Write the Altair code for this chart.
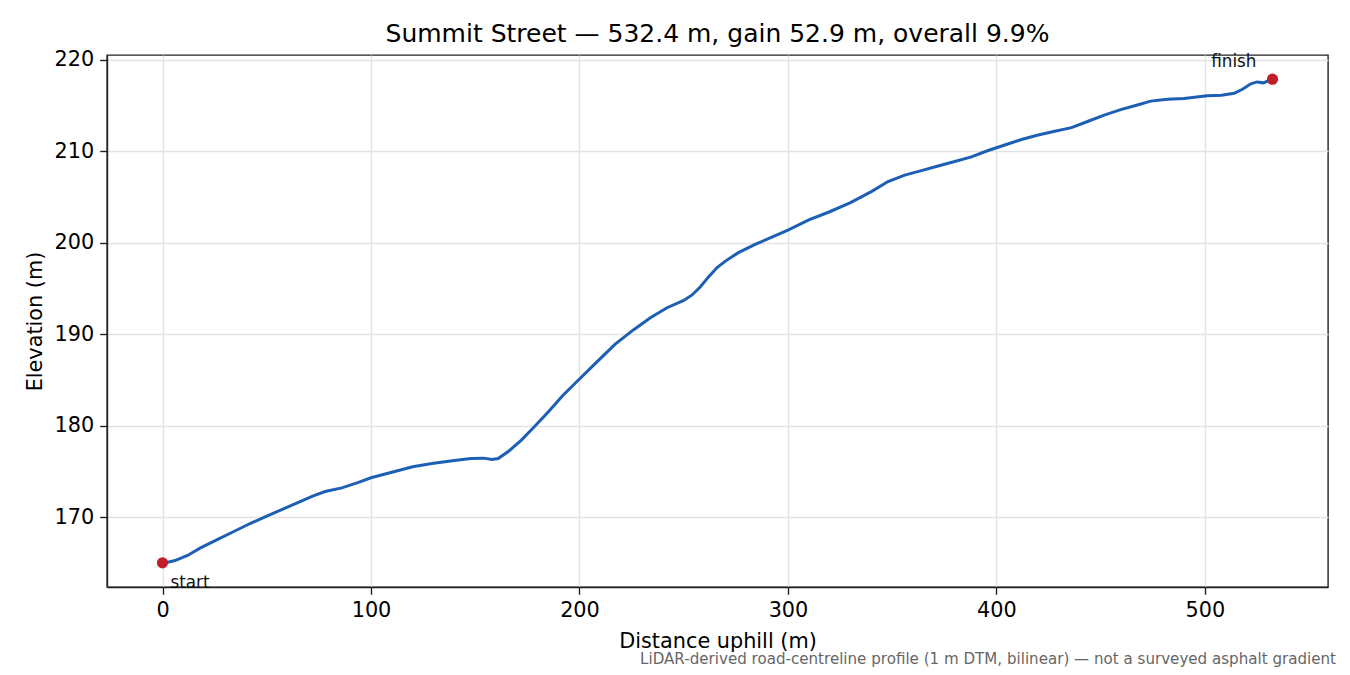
import pandas as pd
import altair as alt

# road profile
distance = [0, 3, 6, 12, 18, 26, 34, 42, 50, 58, 66, 72, 78, 86, 94, 100,
            110, 120, 130, 140, 148, 154, 158, 161, 166, 172, 178, 185, 192, 200,
            208, 217, 226, 234, 242, 250, 254, 258, 262, 266, 270, 276, 284, 292,
            300, 310, 320, 330, 340, 348, 356, 364, 372, 380, 388, 396, 404, 412,
            420, 428, 436, 444, 452, 460, 468, 474, 482, 490, 496, 501, 508, 514,
            518, 522, 525, 528, 532.4]
elevation = [165.0, 165.1, 165.25, 165.8, 166.6, 167.5, 168.4, 169.3, 170.1, 170.9,
             171.7, 172.3, 172.8, 173.2, 173.8, 174.3, 174.9, 175.5, 175.9, 176.2,
             176.4, 176.45, 176.3, 176.4, 177.2, 178.4, 179.8, 181.5, 183.3, 185.1,
             186.9, 188.9, 190.5, 191.8, 192.9, 193.7, 194.3, 195.2, 196.3, 197.3,
             198.0, 198.9, 199.8, 200.6, 201.4, 202.5, 203.4, 204.4, 205.6, 206.7,
             207.4, 207.9, 208.4, 208.9, 209.4, 210.1, 210.7, 211.3, 211.8, 212.2,
             212.6, 213.3, 214.0, 214.6, 215.1, 215.5, 215.7, 215.8, 215.95, 216.1,
             216.15, 216.35, 216.8, 217.4, 217.6, 217.5, 217.9]

end_labels = ['start', 'finish']
end_distance = [0, 532.4]
end_elevation = [165.0, 217.9]

x_ticks = [0, 100, 200, 300, 400, 500]
y_ticks = [170, 180, 190, 200, 210, 220]

footnote = 'LiDAR-derived road-centreline profile (1 m DTM, bilinear) \u2014 not a surveyed asphalt gradient'

df = pd.DataFrame({'distance': distance, 'elevation': elevation})
ends = pd.DataFrame({'label': end_labels, 'distance': end_distance, 'elevation': end_elevation})

FONT = 'DejaVu Sans'

x_enc = alt.X('distance:Q', title='Distance uphill (m)',
              scale=alt.Scale(domain=[-26.62, 559.02], nice=False, zero=False),
              axis=alt.Axis(values=x_ticks, format='d', labelFlush=False))
y_enc = alt.Y('elevation:Q', title='Elevation (m)',
              scale=alt.Scale(domain=[162.355, 220.545], nice=False, zero=False),
              axis=alt.Axis(values=y_ticks, format='d'))

line = alt.Chart(df).mark_line(color='#1c5fb4', strokeWidth=3).encode(
    x=x_enc, y=y_enc, order='distance:Q')

points = alt.Chart(ends).mark_circle(color='#c01f2a', size=125, opacity=1).encode(
    x='distance:Q', y='elevation:Q')

start_text = alt.Chart(ends[ends['label'] == 'start']).mark_text(
    align='left', baseline='alphabetic', dx=8, dy=25, fontSize=16.8, font=FONT, color='#111'
).encode(x='distance:Q', y='elevation:Q', text='label:N')

finish_text = alt.Chart(ends[ends['label'] == 'finish']).mark_text(
    align='right', baseline='alphabetic', dx=-16, dy=-12, fontSize=16.8, font=FONT, color='#111'
).encode(x='distance:Q', y='elevation:Q', text='label:N')

note = alt.Chart(pd.DataFrame({'t': [footnote]})).mark_text(
    align='right', baseline='alphabetic', fontSize=15.1, font=FONT, color='#666666'
).encode(x=alt.value(1229), y=alt.value(609), text='t:N')

chart = alt.layer(line, points, start_text, finish_text, note).properties(
    width=1221,
    height=532,
    autosize=alt.AutoSizeParams(type='none'),
    padding={'left': 99, 'top': 47, 'right': 14, 'bottom': 80},
    title=alt.TitleParams('Summit Street \u2014 532.4 m, gain 52.9 m, overall 9.9%',
                          fontSize=25, font=FONT, fontWeight='normal', color='#000',
                          anchor='middle', offset=2),
).configure_view(
    stroke='#222222', strokeWidth=1.4
).configure_axis(
    labelFont=FONT, labelFontSize=20.8, labelColor='#000',
    titleFont=FONT, titleFontSize=20.8, titleFontWeight='normal', titleColor='#000',
    domainColor='#222222', domainWidth=1.4, tickColor='#222222', tickWidth=1.4,
    tickSize=7.3, labelPadding=6,
    grid=True, gridColor='#e3e3e3', gridWidth=1.4
).configure_axisX(
    titlePadding=11
).configure_axisY(
    titlePadding=9
)

chart.save('out.html', embed_options={'renderer': 'svg', 'actions': False})
